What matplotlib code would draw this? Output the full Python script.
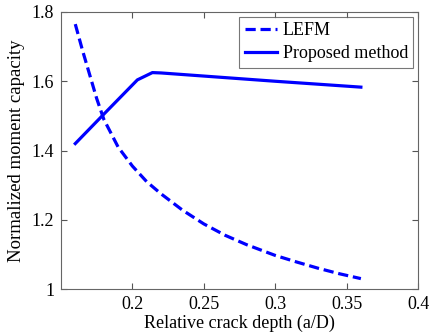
import matplotlib
matplotlib.use("Agg")
import matplotlib.pyplot as plt

plt.rcParams['font.family'] = ['Liberation Serif', 'DejaVu Serif']

lefm_x = [0.16, 0.165, 0.17, 0.175, 0.18, 0.19, 0.20, 0.21, 0.22, 0.235, 0.25, 0.265, 0.28, 0.30, 0.315, 0.33, 0.345, 0.36]
lefm_y = [1.765, 1.69, 1.62, 1.55, 1.49, 1.41, 1.355, 1.31, 1.275, 1.228, 1.188, 1.155, 1.128, 1.097, 1.078, 1.060, 1.044, 1.030]
prop_x = [0.16, 0.18, 0.2035, 0.214, 0.22, 0.25, 0.30, 0.36]
prop_y = [1.42, 1.505, 1.604, 1.625, 1.624, 1.615, 1.600, 1.583]

xticks = [0.2, 0.25, 0.3, 0.35, 0.4]
xticklabels = ['0.2', '0.25', '0.3', '0.35', '0.4']
yticks = [1.0, 1.2, 1.4, 1.6, 1.8]
yticklabels = ['1', '1.2', '1.4', '1.6', '1.8']

fig = plt.figure(figsize=(4.29, 3.32), dpi=100)
ax = fig.add_axes([61/429, 1 - 289/332, (418-61)/429, (289-12)/332])

ax.plot(lefm_x, lefm_y, color='#0000ff', lw=2.3, ls=(0, (3.2, 1.5)), label='LEFM')
ax.plot(prop_x, prop_y, color='#0000ff', lw=2.3, ls='-', label='Proposed method')

ax.set_xlim(0.15, 0.4)
ax.set_ylim(1.0, 1.8)
ax.set_xticks(xticks)
ax.set_xticklabels(xticklabels)
ax.set_yticks(yticks)
ax.set_yticklabels(yticklabels)
ax.tick_params(direction='in', top=True, right=True, labelsize=13, length=4, color='#555555', pad=5)
for s in ax.spines.values():
    s.set_color('#666666')
ax.set_xlabel('Relative crack depth (a/D)', fontsize=13, labelpad=1)
ax.set_ylabel('Normalized moment capacity', fontsize=13.5, labelpad=5)

leg = ax.legend(loc='upper right', fontsize=13, frameon=True, fancybox=False,
                edgecolor='#555555', handlelength=1.8, borderpad=0.3,
                labelspacing=0.35, handletextpad=0.3, borderaxespad=0.25)
leg.get_frame().set_linewidth(0.8)

fig.savefig('out.png', dpi=100)
